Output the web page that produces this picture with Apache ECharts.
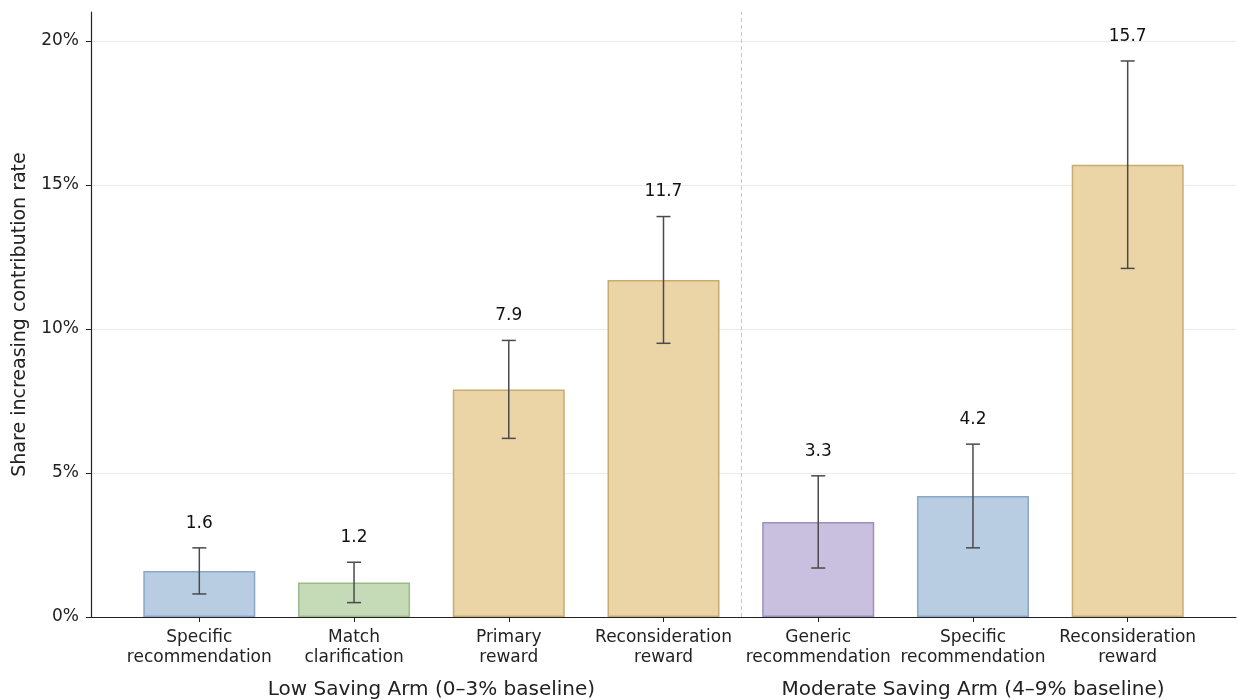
<!DOCTYPE html>
<html>
<head>
<meta charset="utf-8">
<script src="https://cdn.jsdelivr.net/npm/echarts@6/dist/echarts.min.js"></script>
<style>html,body{margin:0;padding:0;background:#fff}#c{width:1238px;height:700px}</style>
</head>
<body>
<div id="c"></div>
<script>
// Data
var categories = ['Specific\nrecommendation', 'Match\nclarification', 'Primary\nreward', 'Reconsideration\nreward',
                  'Generic\nrecommendation', 'Specific\nrecommendation', 'Reconsideration\nreward'];
var values = [1.6, 1.2, 7.9, 11.7, 3.3, 4.2, 15.7];
var ciLow  = [0.8, 0.5, 6.2, 9.5, 1.7, 2.4, 12.1];
var ciHigh = [2.4, 1.9, 9.6, 13.9, 4.9, 6.0, 19.3];
var groupLabels = ['Low Saving Arm (0–3% baseline)', 'Moderate Saving Arm (4–9% baseline)'];
var groupCenters = [1.5, 5];
var yTicks = [0, 5, 10, 15, 20];

// Styles
var fills   = ['#b8cde2', '#c5dbb8', '#ebd5a7', '#ebd5a7', '#c9c0df', '#b8cde2', '#ebd5a7'];
var borders = ['#8aa7c9', '#99bc8a', '#c9ab70', '#c9ab70', '#9f8dbd', '#8aa7c9', '#c9ab70'];
var FONT = 'DejaVu Sans';

var idx = categories.map(function (_, i) { return i; });

var chart = echarts.init(document.getElementById('c'), null, {renderer: 'canvas'});
chart.setOption({
  animation: false,
  backgroundColor: '#fff',
  textStyle: {fontFamily: FONT},
  grid: {left: 91, right: 2, top: 12, bottom: 83, containLabel: false},
  xAxis: {
    type: 'value', min: -0.7, max: 6.7,
    axisLine: {show: true, onZero: false, lineStyle: {color: '#222', width: 1.2}},
    axisTick: {show: true, customValues: idx, length: 5, lineStyle: {color: '#222'}},
    axisLabel: {show: true, customValues: idx, color: '#222', fontSize: 17, fontFamily: FONT, lineHeight: 20, margin: 11,
      formatter: function (v) { var i = Math.round(v); return categories[i] || ''; }},
    splitLine: {show: false}
  },
  yAxis: {
    type: 'value', min: 0, max: 21, interval: 5,
    name: 'Share increasing contribution rate', nameLocation: 'middle', nameGap: 61,
    nameTextStyle: {color: '#222', fontSize: 19, fontFamily: FONT},
    axisLine: {show: true, onZero: false, lineStyle: {color: '#222', width: 1.2}},
    axisTick: {show: true, customValues: yTicks, length: 5, lineStyle: {color: '#222'}},
    axisLabel: {customValues: yTicks, color: '#222', fontSize: 17, fontFamily: FONT, margin: 12, formatter: '{value}%'},
    splitLine: {show: true, lineStyle: {color: ['#ebebeb', '#ebebeb', '#ebebeb', '#ebebeb', '#ebebeb', 'rgba(0,0,0,0)'], width: 1}}
  },
  series: [
    {
      type: 'bar', barWidth: 112,
      data: values.map(function (v, i) {
        return {value: [i, v], itemStyle: {color: fills[i], borderColor: borders[i], borderWidth: 1.5}};
      }),
      markLine: {
        silent: true, symbol: 'none', label: {show: false},
        lineStyle: {color: '#c8c8c8', type: [4, 3], width: 1},
        data: [{xAxis: 3.5}]
      },
      z: 2
    },
    {
      type: 'custom', z: 5,
      data: values.map(function (v, i) { return [i, ciLow[i], ciHigh[i], v]; }),
      renderItem: function (params, api) {
        var x = api.value(0);
        var lo = api.coord([x, api.value(1)]);
        var hi = api.coord([x, api.value(2)]);
        var cap = 7;
        var st = {stroke: '#4a4a4a', lineWidth: 1.5};
        return {
          type: 'group',
          children: [
            {type: 'line', shape: {x1: lo[0], y1: lo[1], x2: hi[0], y2: hi[1]}, style: st},
            {type: 'line', shape: {x1: lo[0] - cap, y1: lo[1], x2: lo[0] + cap, y2: lo[1]}, style: st},
            {type: 'line', shape: {x1: hi[0] - cap, y1: hi[1], x2: hi[0] + cap, y2: hi[1]}, style: st},
            {type: 'text', style: {text: api.value(3).toFixed(1), x: hi[0], y: hi[1] - 16,
              align: 'center', verticalAlign: 'bottom', fill: '#111', fontSize: 17, fontFamily: FONT}}
          ]
        };
      }
    },
    {
      type: 'custom', z: 5, clip: false,
      data: groupCenters.map(function (c, i) { return [c, i]; }),
      renderItem: function (params, api) {
        var p = api.coord([api.value(0), 0]);
        return {type: 'text', style: {text: groupLabels[api.value(1)], x: p[0], y: p[1] + 73,
          align: 'center', verticalAlign: 'middle', fill: '#222', fontSize: 20, fontFamily: FONT}};
      }
    }
  ]
});
</script>
</body>
</html>
